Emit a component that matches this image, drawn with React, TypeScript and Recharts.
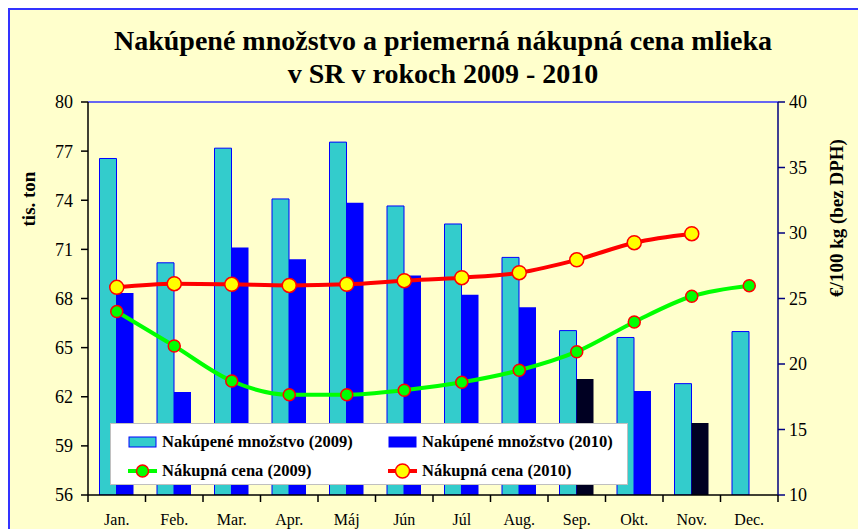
import React from 'react';
import { ComposedChart, Bar, Line, XAxis, YAxis, Cell, ReferenceLine } from 'recharts';

const months = ['Jan.', 'Feb.', 'Mar.', 'Apr.', 'Máj', 'Jún', 'Júl', 'Aug.', 'Sep.', 'Okt.', 'Nov.', 'Dec.'];
const qty2009 = [76.55, 70.18, 77.18, 74.08, 77.55, 73.65, 72.55, 70.51, 66.04, 65.62, 62.8, 65.98];
const qty2010: (number | null)[] = [68.33, 62.29, 71.11, 70.4, 73.85, 69.4, 68.23, 67.46, 63.08, 62.35, 60.4, null];
const price2009 = [24.0, 21.37, 18.7, 17.66, 17.66, 18.0, 18.6, 19.52, 20.94, 23.21, 25.17, 25.98];
const price2010: (number | null)[] = [25.85, 26.13, 26.08, 26.0, 26.08, 26.36, 26.59, 26.97, 27.95, 29.26, 29.95, null];
const leftTicks = [56, 59, 62, 65, 68, 71, 74, 77, 80];
const rightTicks = [10, 15, 20, 25, 30, 35, 40];
const darkMonths = ['Sep.', 'Nov.'];

const data = months.map((m, i) => ({
  month: m,
  q9: qty2009[i],
  q10: qty2010[i],
  p9: price2009[i],
  p10: price2010[i],
}));

const FONT = '"Liberation Serif", "Times New Roman", serif';
const X_TICK_MARGIN = 19;
const X_TICK_LEN = 7;

const legendText: React.CSSProperties = {
  fontFamily: FONT,
  fontWeight: 'bold',
  fontSize: 16.5,
  color: '#000',
  whiteSpace: 'nowrap',
};

function MonthTick(props: any) {
  const { x, y, payload, index, visibleTicksCount } = props;
  const axisY = y - X_TICK_MARGIN;
  const off = payload.offset || 0;
  return (
    <g>
      <line x1={x - off} y1={axisY} x2={x - off} y2={axisY + X_TICK_LEN} stroke="#000" strokeWidth={1.5} />
      {index === visibleTicksCount - 1 && (
        <line x1={x + off} y1={axisY} x2={x + off} y2={axisY + X_TICK_LEN} stroke="#000" strokeWidth={1.5} />
      )}
      <text x={x} y={y} dy="0.71em" textAnchor="middle" fontFamily={FONT} fontSize={16} fill="#000">
        {payload.value}
      </text>
    </g>
  );
}

function BarIcon({ fill, stroke }: { fill: string; stroke: string }) {
  return (
    <svg width={30} height={12} style={{ display: 'block' }}>
      <rect x={1} y={1} width={27} height={10} fill={fill} stroke={stroke} strokeWidth={1} />
    </svg>
  );
}

function LineIcon({ line, dot, r }: { line: string; dot: string; r: number }) {
  return (
    <svg width={30} height={16} style={{ display: 'block' }}>
      <line x1={0} y1={8} x2={29} y2={8} stroke={line} strokeWidth={4} />
      <circle cx={14.5} cy={8} r={r} fill={dot} stroke="#FF0000" strokeWidth={1.5} />
    </svg>
  );
}

function LegendItem({ icon, label, left, top }: { icon: React.ReactNode; label: string; left: number; top: number }) {
  return (
    <div style={{ position: 'absolute', left, top, display: 'flex', alignItems: 'center', gap: 4, transform: 'translateY(-50%)' }}>
      {icon}
      <span style={legendText}>{label}</span>
    </div>
  );
}

export default function App() {
  return (
    <div
      style={{
        position: 'relative',
        width: 852,
        height: 540,
        border: '2px solid #3333FF',
        boxSizing: 'border-box',
        background: '#FFFFCC',
        overflow: 'hidden',
      }}
    >
      <div
        style={{
          position: 'absolute',
          left: 33,
          top: 14,
          width: 800,
          textAlign: 'center',
          fontFamily: FONT,
          fontWeight: 'bold',
          fontSize: 28,
          lineHeight: '33px',
          color: '#000',
        }}
      >
        Nakúpené množstvo a priemerná nákupná cena mlieka
        <br />v SR v rokoch 2009 - 2010
      </div>
      <div
        style={{
          position: 'absolute',
          left: 18.5,
          top: 189,
          transform: 'translate(-50%, -50%) rotate(-90deg)',
          fontFamily: FONT,
          fontWeight: 'bold',
          fontSize: 19,
          whiteSpace: 'nowrap',
        }}
      >
        tis. ton
      </div>
      <div
        style={{
          position: 'absolute',
          left: 826.5,
          top: 207.5,
          transform: 'translate(-50%, -50%) rotate(-90deg)',
          fontFamily: FONT,
          fontWeight: 'bold',
          fontSize: 19,
          whiteSpace: 'nowrap',
        }}
      >
        €/100 kg (bez DPH)
      </div>
      <div style={{ position: 'absolute', left: 0, top: 0 }}>
        <ComposedChart
          width={848}
          height={536}
          data={data}
          margin={{ top: 92, right: 30, bottom: 21, left: 28 }}
          barCategoryGap="20%"
          barGap={0}
        >
          <XAxis
            dataKey="month"
            height={30}
            tickLine={false}
            tickSize={0}
            tickMargin={X_TICK_MARGIN}
            interval={0}
            axisLine={{ stroke: '#000', strokeWidth: 1.5 }}
            tick={<MonthTick />}
          />
          <YAxis
            yAxisId="left"
            domain={[56, 80]}
            ticks={leftTicks}
            width={50}
            tickSize={7}
            tickMargin={8}
            axisLine={{ stroke: '#000', strokeWidth: 1.5 }}
            tickLine={{ stroke: '#000', strokeWidth: 1.5 }}
            tick={{ fontFamily: FONT, fontSize: 18, fill: '#000' }}
            allowDataOverflow
          />
          <YAxis
            yAxisId="right"
            orientation="right"
            domain={[10, 40]}
            ticks={rightTicks}
            width={50}
            tickSize={7}
            tickMargin={4}
            axisLine={{ stroke: '#000080', strokeWidth: 1.5 }}
            tickLine={{ stroke: '#000080', strokeWidth: 1.5 }}
            tick={{ fontFamily: FONT, fontSize: 18, fill: '#000' }}
            allowDataOverflow
          />
          <ReferenceLine yAxisId="left" y={80} stroke="#3333FF" strokeWidth={1.5} />
          <Bar yAxisId="left" dataKey="q9" fill="#33CCCC" stroke="#0000FF" strokeWidth={1} isAnimationActive={false} />
          <Bar yAxisId="left" dataKey="q10" fill="#0000FF" isAnimationActive={false}>
            {data.map((d) => (
              <Cell key={d.month} fill={darkMonths.includes(d.month) ? '#000022' : '#0000FF'} />
            ))}
          </Bar>
          <Line
            yAxisId="right"
            type="monotone"
            dataKey="p9"
            stroke="#00FF00"
            strokeWidth={4}
            dot={{ r: 6, fill: '#00FF00', stroke: '#FF0000', strokeWidth: 1.5 }}
            isAnimationActive={false}
          />
          <Line
            yAxisId="right"
            type="monotone"
            dataKey="p10"
            stroke="#FF0000"
            strokeWidth={4}
            dot={{ r: 7, fill: '#FFFF00', stroke: '#FF0000', strokeWidth: 1.5 }}
            connectNulls={false}
            isAnimationActive={false}
          />
        </ComposedChart>
      </div>
      <div
        style={{
          position: 'absolute',
          left: 100,
          top: 413,
          width: 518,
          height: 62,
          background: '#FFFFFF',
          border: '1px solid #C0C0C0',
          boxSizing: 'border-box',
        }}
      >
        <LegendItem left={17} top={18} icon={<BarIcon fill="#33CCCC" stroke="#0000FF" />} label="Nakúpené množstvo (2009)" />
        <LegendItem left={277} top={18} icon={<BarIcon fill="#0000FF" stroke="#0000FF" />} label="Nakúpené množstvo (2010)" />
        <LegendItem left={17} top={47} icon={<LineIcon line="#00FF00" dot="#00FF00" r={6} />} label="Nákupná cena (2009)" />
        <LegendItem left={277} top={47} icon={<LineIcon line="#FF0000" dot="#FFFF00" r={7} />} label="Nákupná cena (2010)" />
      </div>
    </div>
  );
}
